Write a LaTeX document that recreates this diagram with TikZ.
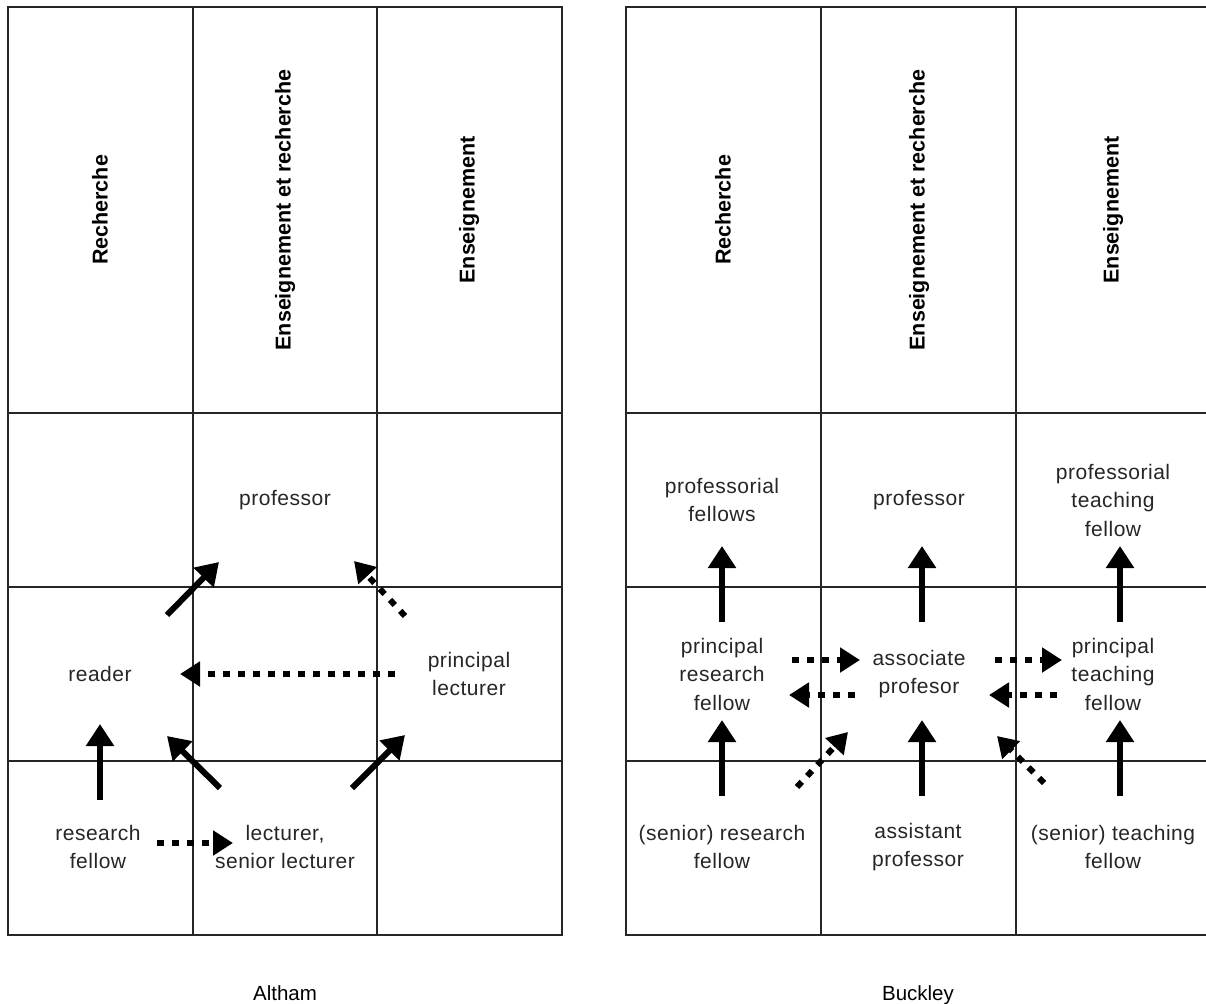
\documentclass[tikz,border=0pt]{standalone}
\usepackage{fontspec}
\setmainfont{Liberation Sans}
\newfontfamily\bodyfont[LetterSpace=2.5]{Liberation Sans}
\usetikzlibrary{arrows.meta}
\begin{document}
\begin{tikzpicture}[x=1pt,y=-1pt,
 gridline/.style={line width=1.4pt, draw=black!85},
 lbl/.style={align=center, font=\bodyfont\fontsize{21}{28.5}\selectfont, text=black!85, inner sep=0pt},
 hdr/.style={rotate=90, font=\fontsize{21.5}{26}\selectfont\bfseries, inner sep=0pt},
 captionlbl/.style={font=\fontsize{20.5}{26}\selectfont, inner sep=0pt, anchor=base},
 solidarrow/.style={line width=6pt, -{Triangle[length=22pt,width=27pt]}},
 dotarrow/.style={line width=6pt, dash pattern=on 7pt off 8pt, -{Triangle[length=20pt,width=24pt]}},
]
\useasboundingbox (0,0) rectangle (1206,1003);
\fill[white] (0,0) rectangle (1206,1003);

% ---------- Left grid (Altham)
\draw[gridline] (8,7) rectangle (562,935);
\draw[gridline] (193,7) -- (193,935) (377,7) -- (377,935);
\draw[gridline] (8,413) -- (562,413) (8,587) -- (562,587) (8,761) -- (562,761);

% ---------- Right grid (Buckley)
\draw[gridline] (1212,7) -- (626,7) -- (626,935) -- (1212,935);
\draw[gridline] (1211,7) -- (1211,935);
\draw[gridline] (821,7) -- (821,935) (1016,7) -- (1016,935);
\draw[gridline] (626,413) -- (1212,413) (626,587) -- (1212,587) (626,761) -- (1212,761);

% ---------- headers
\node[hdr] (hL1) at (100,210) {Recherche};
\node[hdr] (hL2) at (285,210) {Enseignement et recherche};
\node[hdr] (hL3) at (469,210) {Enseignement};
\node[hdr] (hR1) at (723,210) {Recherche};
\node[hdr] (hR2) at (919,210) {Enseignement et recherche};
\node[hdr] (hR3) at (1113,210) {Enseignement};

% ---------- Left labels
\node[lbl] (Lprof) at (285,500) {professor};
\node[lbl] (Lreader) at (100,674) {reader};
\node[lbl] (Lpl) at (469,674) {principal\\lecturer};
\node[lbl] (Lrf) at (98,847) {research\\fellow};
\node[lbl] (Llect) at (285,847) {lecturer,\\senior lecturer};

% ---------- Right labels
\node[lbl] (Rpf) at (722,500) {professorial\\fellows};
\node[lbl] (Rprof) at (919,500) {professor};
\node[lbl] (Rptf) at (1113,500) {professorial\\teaching\\fellow};
\node[lbl] (Rprf) at (722,674) {principal\\research\\fellow};
\node[lbl] (Rap) at (919,674) {associate\\profesor};
\node[lbl] (Rpt) at (1113,674) {principal\\teaching\\fellow};
\node[lbl] (Rsrf) at (722,847) {(senior) research\\fellow};
\node[lbl] (Rasp) at (918,847) {assistant\\professor};
\node[lbl] (Rstf) at (1113,847) {(senior) teaching\\fellow};

% ---------- captions
\node[captionlbl] (altham) at (285,1000) {Altham};
\node[captionlbl] (buckley) at (918,1000) {Buckley};

% ---------- Left arrow endpoints
\coordinate (a1s) at (100,800); \coordinate (a1e) at (100,724);
\coordinate (a2s) at (167,615); \coordinate (a2e) at (219,562);
\coordinate (a3s) at (220,788); \coordinate (a3e) at (167,736);
\coordinate (a4s) at (352,788); \coordinate (a4e) at (405,735);
\coordinate (d1s) at (405,616); \coordinate (d1e) at (354,561);
\coordinate (d2s) at (395,674); \coordinate (d2e) at (180,674);
\coordinate (d3s) at (157,843); \coordinate (d3e) at (233,843);

\draw[solidarrow] (a1s) -- (a1e);
\draw[solidarrow] (a2s) -- (a2e);
\draw[solidarrow] (a3s) -- (a3e);
\draw[solidarrow] (a4s) -- (a4e);
\draw[dotarrow] (d1s) -- (d1e);
\draw[dotarrow] (d2s) -- (d2e);
\draw[dotarrow] (d3s) -- (d3e);

% ---------- Right arrow endpoints
\coordinate (b1s) at (722,622); \coordinate (b1e) at (722,546);
\coordinate (b2s) at (922,622); \coordinate (b2e) at (922,546);
\coordinate (b3s) at (1120,622); \coordinate (b3e) at (1120,546);
\coordinate (b4s) at (722,796); \coordinate (b4e) at (722,720);
\coordinate (b5s) at (922,796); \coordinate (b5e) at (922,720);
\coordinate (b6s) at (1120,796); \coordinate (b6e) at (1120,720);
\coordinate (e1s) at (792,660); \coordinate (e1e) at (860,660);
\coordinate (e2s) at (855,695); \coordinate (e2e) at (789,695);
\coordinate (e3s) at (995,660); \coordinate (e3e) at (1062,660);
\coordinate (e4s) at (1057,695); \coordinate (e4e) at (989,695);
\coordinate (e5s) at (797,787); \coordinate (e5e) at (848,732);
\coordinate (e6s) at (1044,783); \coordinate (e6e) at (997,736);

\draw[solidarrow] (b1s) -- (b1e);
\draw[solidarrow] (b2s) -- (b2e);
\draw[solidarrow] (b3s) -- (b3e);
\draw[solidarrow] (b4s) -- (b4e);
\draw[solidarrow] (b5s) -- (b5e);
\draw[solidarrow] (b6s) -- (b6e);
\draw[dotarrow] (e1s) -- (e1e);
\draw[dotarrow] (e2s) -- (e2e);
\draw[dotarrow] (e3s) -- (e3e);
\draw[dotarrow] (e4s) -- (e4e);
\draw[dotarrow] (e5s) -- (e5e);
\draw[dotarrow] (e6s) -- (e6e);
\end{tikzpicture}
\end{document}
